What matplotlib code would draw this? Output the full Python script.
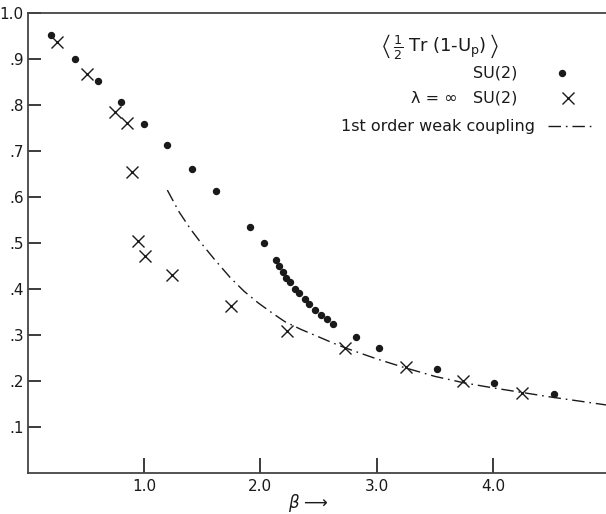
import matplotlib
matplotlib.use("Agg")
import matplotlib.pyplot as plt

# SU(2) points (dots)
su2_beta = [0.20, 0.41, 0.60, 0.80, 1.00, 1.20, 1.41, 1.62, 1.91, 2.03,
            2.13, 2.16, 2.19, 2.22, 2.25, 2.30, 2.33, 2.38, 2.42, 2.47,
            2.52, 2.57, 2.62, 2.82, 3.02, 3.52, 4.01, 4.52]
su2_val = [0.953, 0.900, 0.853, 0.806, 0.758, 0.712, 0.661, 0.612, 0.534, 0.499,
           0.464, 0.449, 0.438, 0.425, 0.415, 0.400, 0.391, 0.378, 0.367, 0.355,
           0.344, 0.334, 0.325, 0.296, 0.272, 0.227, 0.196, 0.171]

# lambda = infinity SU(2) points (crosses)
inf_beta = [0.25, 0.51, 0.75, 0.85, 0.90, 0.95, 1.01, 1.24, 1.75, 2.23,
            2.73, 3.25, 3.74, 4.25]
inf_val = [0.937, 0.867, 0.785, 0.760, 0.654, 0.504, 0.472, 0.430, 0.362, 0.309,
           0.271, 0.230, 0.200, 0.175]

# 1st order weak coupling curve
wc_beta = [1.20, 1.30, 1.40, 1.49, 1.60, 1.74, 1.86, 1.98, 2.10, 2.21, 2.35,
           2.50, 2.62, 2.74, 3.00, 3.24, 3.50, 3.75, 4.00, 4.25, 4.50, 4.75, 4.97]
wc_val = [0.615, 0.568, 0.530, 0.500, 0.466, 0.425, 0.395, 0.370, 0.348, 0.329,
          0.312, 0.296, 0.283, 0.271, 0.248, 0.229, 0.210, 0.196, 0.185, 0.175,
          0.165, 0.156, 0.148]

xticks = [1.0, 2.0, 3.0, 4.0]
xticklabels = ["1.0", "2.0", "3.0", "4.0"]
yticks = [0.1, 0.2, 0.3, 0.4, 0.5, 0.6, 0.7, 0.8, 0.9, 1.0]
yticklabels = [".1", ".2", ".3", ".4", ".5", ".6", ".7", ".8", ".9", "1.0"]

W, H = 606, 514
fig = plt.figure(figsize=(W / 100, H / 100), dpi=100)
ax = fig.add_axes([27.7 / W, 1 - 473 / H, (W - 27.7) / W, 460 / H])

dashdot = (0, (9, 3.5, 1.2, 3.5))
ink = "#1a1a1a"

ax.plot(su2_beta, su2_val, "o", color=ink, markersize=4.3, linestyle="none")
ax.plot(inf_beta, inf_val, "x", color=ink, markersize=9, markeredgewidth=1.0,
        linestyle="none")
ax.plot(wc_beta, wc_val, color=ink, linewidth=1.0, linestyle=dashdot)

ax.set_xlim(0.0, 4.97)
ax.set_ylim(0.0, 1.0)
ax.set_xticks(xticks)
ax.set_xticklabels(xticklabels)
ax.set_yticks(yticks)
ax.set_yticklabels(yticklabels)
ax.tick_params(axis="x", direction="in", length=11, width=1.2, pad=4,
               labelsize=11, colors=ink)
ax.tick_params(axis="y", direction="in", length=9, width=1.2, pad=3,
               labelsize=11, colors=ink)
ax.spines["right"].set_visible(False)
for s in ["left", "bottom", "top"]:
    ax.spines[s].set_linewidth(1.3)
    ax.spines[s].set_color("#444444")

def fx(px):
    return px / W

def fy(py):
    return 1 - py / H

fig.text(fx(308), fy(503), r"$\beta$ ⟶", fontsize=12, ha="center", va="center",
         color=ink)

# legend block
fig.text(fx(440), fy(46),
         r"$\left\langle\,\frac{1}{2}\;\mathrm{Tr}\;(1\text{-}\mathrm{U}_\mathrm{p})\,\right\rangle$",
         fontsize=13, ha="center", va="center", color=ink)
fig.text(fx(517), fy(73), "SU(2)", fontsize=11.5, ha="right", va="center", color=ink)
fig.text(fx(517), fy(98), "λ = ∞   SU(2)", fontsize=11.5, ha="right", va="center",
         color=ink)
fig.text(fx(535), fy(126), "1st order weak coupling", fontsize=11.5, ha="right",
         va="center", color=ink)
fig.lines.append(plt.Line2D([fx(562)], [fy(73)], marker="o", markersize=4.3,
                            color=ink, linestyle="none",
                            transform=fig.transFigure, figure=fig))
fig.lines.append(plt.Line2D([fx(568)], [fy(98)], marker="x", markersize=9,
                            markeredgewidth=1.0, color=ink, linestyle="none",
                            transform=fig.transFigure, figure=fig))
fig.lines.append(plt.Line2D([fx(548), fx(592)], [fy(126), fy(126)], color=ink,
                            linewidth=1.0, linestyle=dashdot,
                            transform=fig.transFigure, figure=fig))

fig.savefig("out.png", dpi=100)
